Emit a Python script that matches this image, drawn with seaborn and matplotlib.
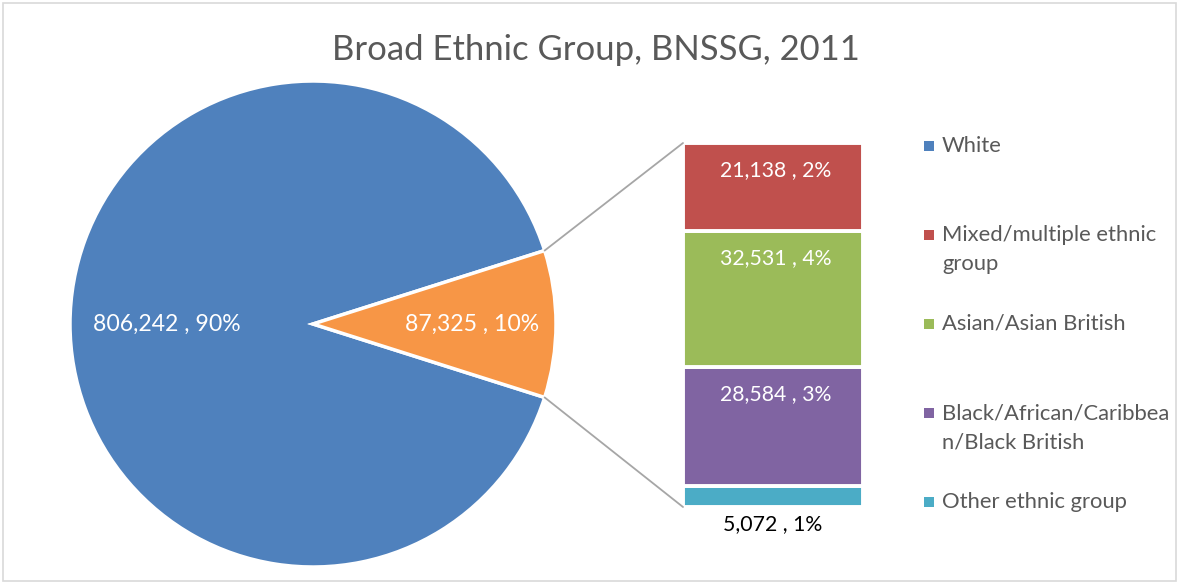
import numpy as np
import matplotlib
matplotlib.use("Agg")
import matplotlib.pyplot as plt
from matplotlib.patches import ConnectionPatch, Rectangle
import seaborn as sns

# data
title = "Broad Ethnic Group, BNSSG, 2011"
white_count = 806242
groups = ["Mixed/multiple ethnic group", "Asian/Asian British",
          "Black/African/Caribbean/Black British", "Other ethnic group"]
group_counts = [21138, 32531, 28584, 5072]
legend_labels = ["White", "Mixed/multiple ethnic\ngroup", "Asian/Asian British",
                 "Black/African/Caribbea\nn/Black British", "Other ethnic group"]

pie_colors = ["#4F81BD", "#F79646"]
group_colors = ["#C0504D", "#9BBB59", "#8064A2", "#4BACC6"]
legend_colors = [pie_colors[0]] + group_colors

sns.set_theme(style="white")
plt.rcParams["font.family"] = ["Lato", "DejaVu Sans"]

W, H = 1179, 584
fig = plt.figure(figsize=(W / 100, H / 100), dpi=100)
fig.patch.set_facecolor("white")

# light chart border
fig.add_artist(Rectangle((3 / W, 3 / H), 1 - 6 / W, 1 - 6 / H, transform=fig.transFigure,
                         fill=False, edgecolor="#D9D9D9", lw=1.2))

other_total = sum(group_counts)
grand_total = white_count + other_total
pie_vals = [white_count, other_total]

# pie
ax = fig.add_axes([70 / W, 17 / H, 486 / W, 486 / H])
start = other_total / grand_total * 360 / 2
wedges, _ = ax.pie(pie_vals, colors=pie_colors, startangle=start, radius=1,
                   wedgeprops=dict(edgecolor="white", linewidth=2.5))
ax.set_xlim(-1, 1)
ax.set_ylim(-1, 1)
ax.axis("off")

label_r = [0.60, 0.655]
for w, v, r in zip(wedges, pie_vals, label_r):
    ang = np.deg2rad((w.theta1 + w.theta2) / 2)
    pct = round(v / grand_total * 100)
    ax.text(r * np.cos(ang), r * np.sin(ang), f"{v:,} , {pct}%", color="white",
            fontsize=16.6, ha="center", va="center")

# stacked bar of the "other" slice
bx = fig.add_axes([683 / W, 77 / H, 180 / W, 364 / H])
bottom = 0
for g, v, c in reversed(list(zip(groups, group_counts, group_colors))):
    bx.bar(0, v, bottom=bottom, width=1, color=c, edgecolor="white", linewidth=2.8)
    pct = round(v / grand_total * 100)
    txt = f"{v:,} , {pct}%"
    if v / other_total > 0.1:
        bx.annotate(txt, (0, bottom + v), xytext=(3, -27), textcoords="offset pixels",
                    ha="center", va="center", color="white", fontsize=15.3)
    else:
        bx.annotate(txt, (0, bottom), xytext=(0, -17), textcoords="offset pixels",
                    ha="center", va="center", color="black", fontsize=15.3)
    bottom += v
bx.set_xlim(-0.5, 0.5)
bx.set_ylim(0, other_total)
bx.axis("off")

# connector lines
ow = wedges[1]
for theta, ybar in [(ow.theta2, other_total), (ow.theta1, 0)]:
    t = np.deg2rad(theta)
    con = ConnectionPatch(xyA=(np.cos(t), np.sin(t)), coordsA=ax.transData,
                          xyB=(-0.5, ybar), coordsB=bx.transData,
                          color="#A6A6A6", lw=1.3)
    fig.add_artist(con)

# title
fig.text(596 / W, 1 - 50 / H, title, ha="center", va="center", fontsize=24.9,
         color="#595959", fontweight="normal")

# legend
legend_y = [146, 235, 324, 413, 502]
for lab, c, y in zip(legend_labels, legend_colors, legend_y):
    fig.add_artist(Rectangle((924 / W, 1 - (y + 5) / H), 10 / W, 10 / H,
                             transform=fig.transFigure, color=c, lw=0))
    for i, line in enumerate(lab.split("\n")):
        fig.text(942 / W, 1 - (y + i * 29.5) / H, line, ha="left", va="center",
                 fontsize=15.8, color="#595959")

fig.savefig("out.png", dpi=100)
